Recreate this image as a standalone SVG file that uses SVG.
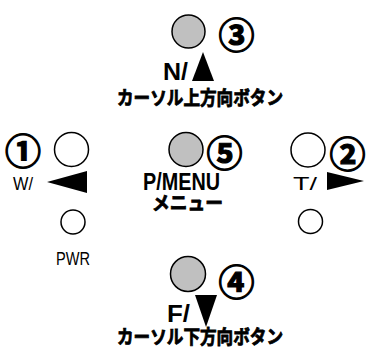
<svg xmlns="http://www.w3.org/2000/svg" width="366" height="349" viewBox="0 0 366 349">
<style>
.btn{stroke:#000;stroke-width:1.5;fill:#fff}
.gray{fill:#c0c0c0}
.tri{fill:#000}
.num{font-family:"Noto Sans CJK JP","DejaVu Sans",sans-serif;font-weight:bold;font-size:36px;text-anchor:middle;stroke:#000;stroke-width:1.2}
.lb{font-family:"Liberation Sans","Noto Sans CJK JP",sans-serif;font-weight:bold;font-size:24px}
.sm{font-family:"Liberation Sans",sans-serif;font-size:19px}
.jp{font-family:"Noto Sans CJK JP",sans-serif;font-weight:bold;font-size:19px;stroke:#000;stroke-width:0.8}
</style>
<rect width="366" height="349" fill="#fff"/>
<g id="up">
<circle class="btn gray" cx="188.5" cy="31.5" r="16.5"/>
<text class="num" x="236.5" y="48.5">③</text>
<polygon class="tri" points="203,52 192,81 214,81"/>
<text class="lb" x="163" y="80" textLength="25" lengthAdjust="spacingAndGlyphs">N/</text>
<text class="jp" x="117" y="105" textLength="166" lengthAdjust="spacingAndGlyphs">カーソル上方向ボタン</text>
</g>
<g id="left">
<circle class="btn" cx="71.5" cy="149.5" r="17"/>
<text class="num" x="23" y="165">①</text>
<polygon class="tri" points="47,182 87,171 87,193"/>
<text class="sm" x="13" y="190" textLength="20" lengthAdjust="spacingAndGlyphs">W/</text>
</g>
<g id="pwr">
<circle class="btn" cx="73" cy="222" r="12"/>
<text class="sm" x="56" y="265" textLength="34" lengthAdjust="spacingAndGlyphs">PWR</text>
</g>
<g id="center">
<circle class="btn gray" cx="186" cy="149.5" r="17"/>
<text class="num" x="224.5" y="166.5">⑤</text>
<text class="lb" x="143" y="190" textLength="77" lengthAdjust="spacingAndGlyphs">P/MENU</text>
<text class="jp" x="152" y="210" textLength="71" lengthAdjust="spacingAndGlyphs">メニュー</text>
</g>
<g id="right">
<circle class="btn" cx="308" cy="150" r="17"/>
<text class="num" x="347.5" y="167.5">②</text>
<polygon class="tri" points="364,181 327,172 327,190"/>
<text class="sm" x="293" y="190" textLength="24" lengthAdjust="spacingAndGlyphs">T/</text>
</g>
<g id="pwr2">
<circle class="btn" cx="310.5" cy="221.5" r="12"/>
</g>
<g id="down">
<circle class="btn gray" cx="188" cy="274" r="17.5"/>
<text class="num" x="236.5" y="295.5">④</text>
<polygon class="tri" points="195,295 217,295 206,327"/>
<text class="lb" x="167" y="322" textLength="23" lengthAdjust="spacingAndGlyphs">F/</text>
<text class="jp" x="117" y="344" textLength="166" lengthAdjust="spacingAndGlyphs">カーソル下方向ボタン</text>
</g>
<g id="connectors"/>
</svg>
